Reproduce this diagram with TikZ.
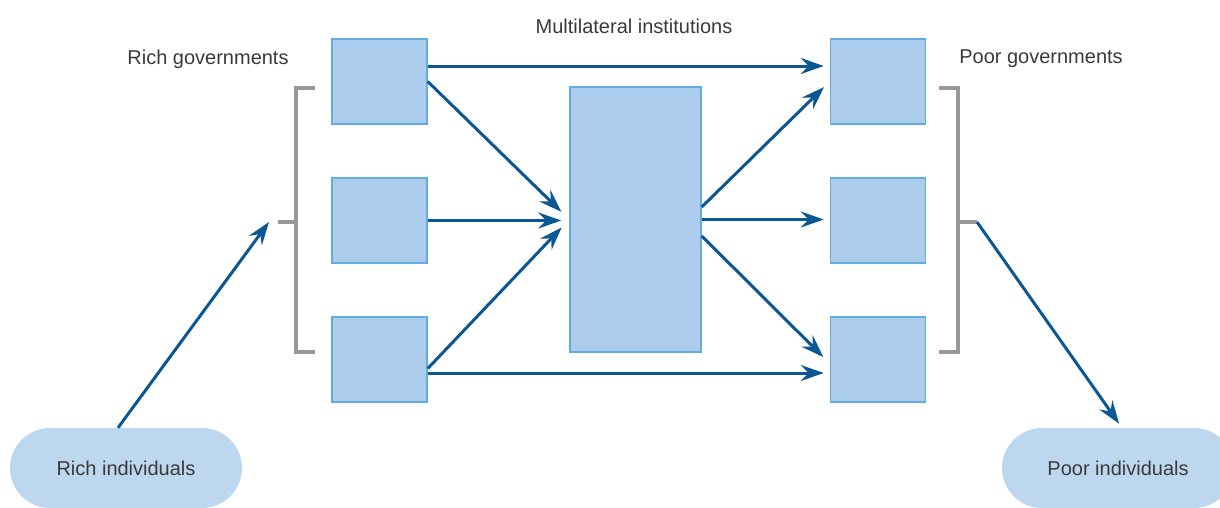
\documentclass[tikz,border=0pt]{standalone}
\usepackage{fontspec}
\setmainfont{Liberation Sans}
\usetikzlibrary{arrows.meta}

\definecolor{boxfill}{HTML}{ABCDEB}
\definecolor{boxline}{HTML}{62ACE2}
\definecolor{pillfill}{HTML}{BDD7EE}
\definecolor{flowblue}{HTML}{0B5794}
\definecolor{brackgray}{HTML}{98989C}
\definecolor{textgray}{HTML}{3A3A3A}

\begin{document}
\begin{tikzpicture}[x=1pt, y=-1pt]

% boxes, pills and arrows
\tikzset{%
    govbox/.style={draw=boxline, fill=boxfill, line width=1.5pt, inner sep=0pt, minimum width=\boxw pt, minimum height=\boxh pt},
    pill/.style={fill=pillfill, rounded corners=40pt, inner sep=0pt, minimum width=232pt, minimum height=80pt, text=textgray, font=\fontsize{20}{24}\selectfont},
    txt/.style={text=textgray, font=\fontsize{20}{24}\selectfont, inner sep=0pt},
    flow/.style={draw=flowblue, line width=3pt, -{Stealth[length=23pt,width=16pt,inset=8pt]}, shorten >=6pt},
    bracket/.style={draw=brackgray, line width=3.3pt},
}

\def\boxw{95}
\def\boxh{85}

\def\richx{379.5}
\def\poorx{878}

\useasboundingbox (0,0) rectangle (1220,507);
\clip (0,0) rectangle (1220,507);

% rich governments
\node [govbox] (rg1) at (\richx, 81.5) {};
\node [govbox] (rg2) at (\richx, 220.5) {};
\node [govbox] (rg3) at (\richx, 359.5) {};

% poor governments
\node [govbox] (pg1) at (\poorx, 81.5) {};
\node [govbox] (pg2) at (\poorx, 220.5) {};
\node [govbox] (pg3) at (\poorx, 359.5) {};

% multilateral institutions
\node [govbox, minimum width=131pt, minimum height=265pt] (mi) at (635.5, 219.5) {};

% labels
\node [txt] (rgl) at (208, 59) {Rich governments};
\node [txt] (pgl) at (1041, 59) {Poor governments};
\node [txt] (mil) at (634, 26) {Multilateral institutions};

% individuals
\node [pill] (ri) at (126, 468) {Rich individuals};
\node [pill] (pi) at (1118, 468) {Poor individuals};

% brackets
\draw [bracket] (315, 88) -- (296, 88) -- (296, 352) -- (315, 352);
\draw [bracket] (296, 222) -- (278, 222) coordinate (lbr);
\draw [bracket] (939, 88) -- (958, 88) -- (958, 352) -- (939, 352);
\draw [bracket] (958, 222) -- (977, 222) coordinate (rbr);

% flows
\draw [flow] ([yshift=15.5pt]rg1.east) -- ([yshift=15.5pt]pg1.west);
\draw [flow, shorten >=11pt] (rg1.east) -- (mi.west);
\draw [flow, shorten >=8pt] (rg2.east) -- (rg2.east -| mi.west);
\draw [flow, shorten >=11pt] ([yshift=-9pt]rg3.east) -- (mi.west);
\draw [flow] ([yshift=-13.5pt]rg3.east) -- ([yshift=-13.5pt]pg3.west);

\draw [flow, shorten >=8pt] ([yshift=12.5pt]mi.east) -- (pg1.west);
\draw [flow] (mi.east) -- (mi.east -| pg2.west);
\draw [flow, shorten >=9pt] ([yshift=-16.5pt]mi.east) -- ([yshift=-4pt]pg3.west);

\draw [flow, shorten >=0pt] ([xshift=-8pt]ri.north) -- ([xshift=-9pt]lbr);
\draw [flow, shorten >=5pt] (rbr) -- ([xshift=4pt]pi.north);

\end{tikzpicture}
\end{document}
